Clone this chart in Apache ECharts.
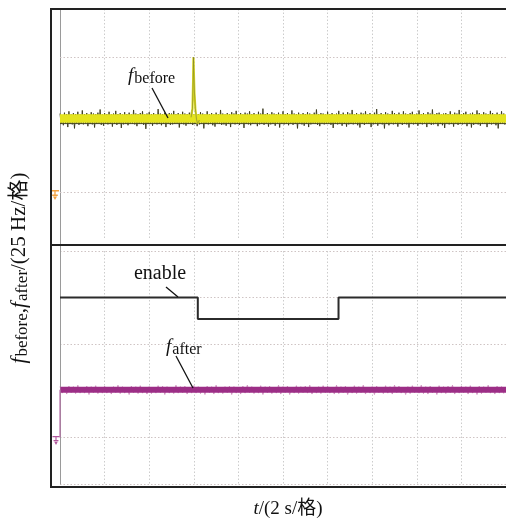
<!DOCTYPE html>
<html><head><meta charset="utf-8">
<script src="https://cdn.jsdelivr.net/npm/echarts@6/dist/echarts.min.js"></script>
<style>html,body{margin:0;padding:0;background:#fff}#c{width:506px;height:518px}</style>
</head><body><div id="c"></div>
<script>
// time axis: 2 s per division, 10 divisions
const xMin = 0, xMax = 20, xStep = 2;
// vertical units: divisions (25 Hz per division)
const topYMin = -1.0667, topYMax = 4.0667;
const topGridLines = [-1.0667, 0, 3];
const botYMin = 0, botYMax = 5, botStep = 1;

// f_before (yellow trace): level, spike and noise (hundredths of a division around the level)
const fBeforeLevel = 1.633;
const fBeforeSpike = [[5.88,1.66],[5.94,1.85],[5.97,2.5],[5.985,3.0],[6.0,2.7],[6.03,2.2],[6.07,1.85],[6.12,1.62],[6.17,1.52],[6.25,1.60]];
const fBeforeNoiseDt = 0.05;
const fBeforeNoise = [
11,-12,8,-15,13,-11,10,-19,16,-12,9,-13,12,-22,10,-11,15,-14,9,-12,
18,-13,10,-11,12,-17,9,-12,14,-13,11,-20,10,-12,13,-11,20,-14,9,-16,
12,-11,10,-13,15,-12,9,-18,11,-12,17,-14,10,-11,12,-21,9,-13,14,-12,
10,-15,13,-11,9,-12,19,-13,11,-17,10,-12,12,-11,16,-14,9,-23,11,-12,
14,-12,10,-16,12,-11,9,-13,21,-12,11,-15,10,-12,13,-19,9,-11,12,-14,
11,-13,17,-12,10,-11,12,-20,9,-12,15,-13,11,-16,10,-12,13,-11,18,-14,
9,-12,12,-17,10,-13,14,-11,11,-22,9,-12,16,-13,10,-11,12,-15,9,-18,
13,-11,10,-12,19,-14,11,-13,9,-16,12,-12,10,-19,14,-11,11,-13,17,-12,
10,-14,12,-11,9,-21,13,-12,11,-13,16,-15,10,-12,12,-11,9,-17,15,-13,
11,-12,22,-14,10,-11,12,-18,9,-13,14,-12,11,-16,10,-11,13,-20,9,-12,
16,-13,10,-12,12,-15,9,-11,18,-14,11,-12,10,-22,13,-11,9,-13,12,-16,
10,-12,14,-19,11,-13,9,-11,13,-12,20,-14,10,-17,12,-11,11,-13,9,-12,
15,-11,10,-14,12,-21,9,-12,11,-13,17,-11,10,-16,13,-12,9,-18,14,-13,
11,-12,19,-13,10,-11,12,-15,9,-20,13,-12,11,-14,16,-11,10,-12,12,-19,
9,-13,13,-12,21,-16,10,-11,12,-13,9,-22,14,-12,11,-15,10,-11,17,-13,
12,-12,10,-18,13,-11,9,-14,16,-12,11,-13,10,-20,12,-11,15,-13,9,-12,
11,-16,18,-12,10,-13,12,-11,9,-19,14,-12,11,-14,20,-13,10,-11,12,-17,
13,-12,9,-15,11,-21,12,-11,10,-13,16,-12,9,-18,13,-11,11,-14,19,-12,
10,-13,12,-11,15,-17,9,-12,11,-20,13,-14,10,-11,18,-13,12,-16,9,-12,
14,-11,11,-19,10,-12,17,-13,12,-11,9,-15,13,-22,10,-12,16,-11,11,-14];
const fBeforeLowerEdge = 1.52;
const fBeforeGround = -0.067;

// f_after (purple trace)
const fAfterLevel = 2.02;
const fAfterStart = [[0,1.0],[0,2.02]];
const fAfterGround = 1.0;
const fAfterNoiseDt = 0.1;
const fAfterNoise = [
7,-7,6,-9,8,-6,7,-8,10,-7,6,-7,8,-10,7,-6,9,-8,6,-7,
8,-7,6,-9,7,-6,10,-8,7,-7,6,-10,8,-6,7,-8,9,-7,6,-9,
7,-8,6,-7,9,-6,8,-10,7,-7,6,-8,10,-7,7,-6,8,-9,6,-7,
9,-7,7,-8,6,-10,8,-6,7,-9,10,-7,6,-8,7,-6,8,-10,7,-7,
6,-9,8,-7,10,-6,7,-8,6,-7,9,-10,7,-6,8,-8,6,-7,10,-9,
7,-6,8,-10,6,-7,9,-8,7,-6,8,-7,10,-9,6,-7,7,-8,9,-6,
8,-7,6,-9,10,-8,7,-6,8,-10,6,-7,9,-8,7,-6,10,-9,6,-7,
7,-10,8,-6,6,-8,9,-7,7,-9,10,-6,8,-7,6,-10,7,-8,9,-6,
6,-7,10,-8,7,-9,8,-6,6,-10,9,-7,7,-8,8,-6,10,-9,6,-7,
8,-6,7,-9,9,-7,6,-10,8,-8,7,-6,10,-7,6,-9,8,-7,7,-8];

// enable (step signal)
const enableTimes  = [0, 6.18, 6.18, 12.49, 12.49, 20];
const enableValues = [4.0, 4.0, 3.54, 3.54, 4.0, 4.0];

const serif = "'Liberation Serif','Times New Roman','Noto Sans CJK SC',serif";

function noisy(arr, dt, level){ return arr.map((v,i)=>[i*dt, level + v/100]); }
const groundPath = 'path://M0,0h10v1.6h-10z M4.2,1.6h1.6v3h-1.6z M1.5,4.6h7v1.4h-7z M2.5,6.6h5l-2.5,3.4z';

const chart = echarts.init(document.getElementById('c'), null, {renderer:'canvas'});
const dotted = {type:[1.5,2], color:'#cfc4c4', width:1};
const axBase = {
  type:'value', min:xMin, max:xMax, interval:xStep,
  axisLine:{show:false}, axisTick:{show:false}, axisLabel:{show:false},
  splitLine:{show:true, lineStyle:{type:[1.5,2], color:'#cccccc', width:1}}
};
const subRich = (fs, pad) => ({
  i:{fontFamily:serif, fontStyle:'italic', fontSize:fs, lineHeight:fs+2, verticalAlign:'top'},
  n:{fontFamily:serif, fontSize:fs, lineHeight:fs+2, verticalAlign:'top'},
  s:{fontFamily:serif, fontSize:Math.round(fs*0.82), lineHeight:Math.round(fs*0.82), padding:[pad,0,0,1], verticalAlign:'bottom'}
});
const option = {
  animation:false,
  backgroundColor:'#ffffff',
  grid:[
    {left:60, top:9, width:450, height:231},
    {left:60, top:251, width:450, height:233}
  ],
  xAxis:[
    Object.assign({gridIndex:0}, axBase),
    Object.assign({gridIndex:1}, axBase)
  ],
  yAxis:[
    {gridIndex:0, type:'value', min:topYMin, max:topYMax,
     axisLine:{show:true, lineStyle:{color:'#9a9a9a', width:1}}, axisTick:{show:false}, axisLabel:{show:false}, splitLine:{show:false}},
    {gridIndex:1, type:'value', min:botYMin, max:botYMax, interval:botStep,
     axisLine:{show:true, lineStyle:{color:'#9a9a9a', width:1}}, axisTick:{show:false}, axisLabel:{show:false},
     splitLine:{show:true, lineStyle:dotted}}
  ],
  series:[
    {type:'line', xAxisIndex:0, yAxisIndex:0, data:[[0,topYMin]], symbol:'none', silent:true,
     lineStyle:{opacity:0}, z:1,
     markLine:{silent:true, symbol:'none', label:{show:false}, lineStyle:dotted,
       data: topGridLines.map(v=>({yAxis:v}))}},
    {type:'line', xAxisIndex:0, yAxisIndex:0, data:noisy(fBeforeNoise, fBeforeNoiseDt, fBeforeLevel), symbol:'none', silent:true,
     lineStyle:{color:'#36361a', width:0.9}, z:2},
    {type:'line', xAxisIndex:0, yAxisIndex:0, data:[[0,fBeforeLowerEdge],[xMax,fBeforeLowerEdge]], symbol:'none', silent:true,
     lineStyle:{color:'#4a4a22', width:1}, z:2},
    {type:'line', xAxisIndex:0, yAxisIndex:0, data:[[0,fBeforeLevel],[xMax,fBeforeLevel]], symbol:'none', silent:true,
     lineStyle:{color:'#e4e41e', width:8.5, cap:'butt'}, z:3,
     markPoint:{silent:true, symbol:groundPath, symbolSize:[8,10], symbolOffset:[-5,0],
       itemStyle:{color:'#f2a040'}, label:{show:false}, data:[{coord:[0,fBeforeGround]}]}},
    {type:'line', xAxisIndex:0, yAxisIndex:0, data:fBeforeSpike, symbol:'none', silent:true,
     lineStyle:{color:'#dede22', width:2.2}, z:4},
    {type:'line', xAxisIndex:0, yAxisIndex:0, data:fBeforeSpike, symbol:'none', silent:true,
     lineStyle:{color:'#6a6a30', width:0.5}, z:5},

    {type:'line', xAxisIndex:1, yAxisIndex:1, data:noisy(fAfterNoise, fAfterNoiseDt, fAfterLevel), symbol:'none', silent:true,
     lineStyle:{color:'#c883b6', width:0.8}, z:2},
    {type:'line', xAxisIndex:1, yAxisIndex:1, data:[[0.02,fAfterLevel],[xMax,fAfterLevel]], symbol:'none', silent:true,
     lineStyle:{color:'#9c2e86', width:6, cap:'butt'}, z:3},
    {type:'line', xAxisIndex:1, yAxisIndex:1, data:fAfterStart, symbol:'none', silent:true,
     lineStyle:{color:'#b56aa5', width:1.2}, z:3,
     markPoint:{silent:true, symbol:groundPath, symbolSize:[7,9], symbolOffset:[-4,3],
       itemStyle:{color:'#b0579c'}, label:{show:false}, data:[{coord:[0,fAfterGround]}]}},
    {type:'line', xAxisIndex:1, yAxisIndex:1, data:enableTimes.map((t,i)=>[t,enableValues[i]]), symbol:'none', silent:true,
     lineStyle:{color:'#2b2b2b', width:2}, z:4}
  ],
  graphic:[
    {type:'rect', z:100, shape:{x:51, y:9, width:480, height:478}, style:{fill:null, stroke:'#222', lineWidth:2}},
    {type:'line', z:100, shape:{x1:51, y1:245, x2:506, y2:245}, style:{stroke:'#222', lineWidth:2}},
    {type:'line', z:99, shape:{x1:60.5, y1:240, x2:60.5, y2:251}, style:{stroke:'#9a9a9a', lineWidth:1}},
    // annotations
    {type:'text', z:100, x:128, y:66, style:{text:'{i|f}{s|before}', fill:'#111', rich:subRich(19,6)}},
    {type:'line', z:100, shape:{x1:152, y1:88, x2:168, y2:118}, style:{stroke:'#111', lineWidth:1.3}},
    {type:'text', z:100, x:160, y:274, style:{text:'enable', fill:'#111', fontFamily:serif, fontSize:20, align:'center', verticalAlign:'middle'}},
    {type:'line', z:100, shape:{x1:166, y1:287, x2:178, y2:297}, style:{stroke:'#111', lineWidth:1.3}},
    {type:'text', z:100, x:166, y:337, style:{text:'{i|f}{s|after}', fill:'#111', rich:subRich(19,6)}},
    {type:'line', z:100, shape:{x1:176, y1:356, x2:193, y2:388}, style:{stroke:'#111', lineWidth:1.3}},
    // axis titles
    {type:'text', z:100, x:288, y:509, style:{text:'{i|t}{n|/(2 s/格)}', align:'center', verticalAlign:'middle', fill:'#111', rich:{
      i:{fontFamily:serif, fontStyle:'italic', fontSize:19},
      n:{fontFamily:serif, fontSize:19}}}},
    {type:'group', z:100, x:20, y:268, rotation:Math.PI/2, children:[
      {type:'text', z:100, x:0, y:0, style:{text:'{i|f}{s|before}{n|,}{i|f}{s|after}{n|/(25 Hz/格)}', align:'center', verticalAlign:'middle', fill:'#111', rich:subRich(21,7)}}
    ]}
  ]
};
chart.setOption(option);
</script>
</body></html>
